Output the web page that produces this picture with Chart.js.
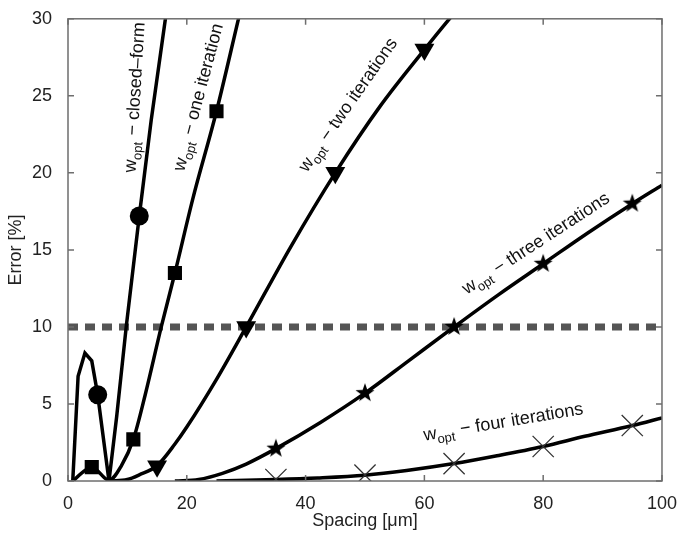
<!DOCTYPE html>
<html>
<head>
<meta charset="utf-8">
<script src="https://cdn.jsdelivr.net/npm/chart.js@4.4.0/dist/chart.umd.min.js"></script>
<style>
  html, body { margin: 0; padding: 0; background: #fff; }
  #wrap { width: 681px; height: 533px; }
</style>
</head>
<body>
<div id="wrap"><canvas id="errChart" width="681" height="533"></canvas></div>
<script>
// Error curves vs. spacing, one per optimisation variant
const closedForm = [[0.8,0],[1.7,6.8],[2.85,8.3],[4.0,7.8],[5.0,5.6],[6.9,0],[8.2,4.2],[9.8,10],[12,17.2],[14,23.4],[16.4,30],[17,31.8]];
const oneIter = [[0.8,0],[4,0.9],[6.9,0.05],[9,1.0],[11,2.7],[13,5.6],[15.7,10],[18,13.5],[21,18.3],[25,24],[28.7,30],[29.5,31.3]];
const twoIter = [[7,0],[10,0.1],[12,0.4],[15,1.0],[18,2.4],[20,3.5],[25,6.6],[30,10],[37.5,15.2],[45,20],[52.5,24.3],[60,28],[64,29.9],[66,30.8]];
const threeIter = [[18,0],[22,0.1],[26,0.5],[30,1.1],[35,2.1],[42.5,3.8],[50,5.7],[57.5,7.85],[65,10],[72.5,12.1],[80,14.1],[87.5,16.1],[95,18],[100,19.2]];
const fourIter = [[25,0],[35,0.1],[42,0.2],[50,0.38],[57,0.68],[65,1.13],[72,1.62],[80,2.24],[87,2.9],[95,3.6],[100,4.1]];

// marker positions on each curve
const closedMarks = [[5,5.6],[12,17.2]];
const oneMarks = [[4,0.9],[11,2.7],[18,13.5],[25,24]];
const twoMarks = [[15,0.95],[30,10],[45,20],[60,28]];
const threeMarks = [[35,2.1],[50,5.7],[65,10],[80,14.1],[95,18]];
const fourMarks = [[35,0.1],[50,0.38],[65,1.13],[80,2.24],[95,3.6]];

const threshold = [[0,10],[100,10]];

const xTicks = [0, 20, 40, 60, 80, 100];
const yTicks = [0, 5, 10, 15, 20, 25, 30];

// curve labels: text after the subscript, anchor (data coords), rotation in degrees
const curveLabels = [
  { rest: ' \u2212 closed\u2013form', x: 11.3, y: 24.9, rot: -86.5 },
  { rest: ' \u2212 one iteration', x: 22.0, y: 24.9, rot: -75 },
  { rest: ' \u2212 two iterations', x: 47.2, y: 24.4, rot: -55 },
  { rest: ' \u2212 three iterations', x: 78.8, y: 15.4, rot: -33 },
  { rest: ' \u2212 four iterations', x: 73.3, y: 3.8, rot: -9.5 }
];

const FONT = '"Liberation Sans", Arial, Helvetica, sans-serif';

function pts(arr) {
  return arr.map(p => ({ x: p[0], y: p[1] }));
}

// filled five-point star used as the marker on the three-iteration curve
function makeStar(r) {
  const s = Math.ceil(r * 2 + 2);
  const c = document.createElement('canvas');
  c.width = s; c.height = s;
  const g = c.getContext('2d');
  g.beginPath();
  for (let i = 0; i < 10; i++) {
    const a = -Math.PI / 2 + i * Math.PI / 5;
    const rr = i % 2 ? r * 0.4 : r;
    g.lineTo(s / 2 + rr * Math.cos(a), s / 2 + rr * Math.sin(a));
  }
  g.closePath();
  g.fillStyle = '#000';
  g.fill();
  return c;
}
const starImg = makeStar(10);

function curve(data, tension) {
  return {
    data: pts(data),
    borderColor: '#000',
    borderWidth: 3.5,
    pointRadius: 0,
    tension: tension,
    cubicInterpolationMode: tension ? 'monotone' : 'default',
    fill: false
  };
}

function marks(data, style, radius, extra) {
  return Object.assign({
    data: pts(data),
    showLine: false,
    pointStyle: style,
    pointRadius: radius,
    pointBackgroundColor: '#000',
    pointBorderColor: '#000',
    pointBorderWidth: 0
  }, extra || {});
}

// box around the plot with inward tick marks on all four sides
const frameTicks = {
  id: 'frameTicks',
  afterDatasetsDraw(chart) {
    const { ctx, chartArea: a, scales } = chart;
    ctx.save();
    ctx.strokeStyle = '#6e6e6e';
    ctx.lineWidth = 1.5;
    ctx.strokeRect(a.left, a.top, a.right - a.left, a.bottom - a.top);
    ctx.beginPath();
    const len = 6;
    xTicks.forEach(v => {
      const px = scales.x.getPixelForValue(v);
      ctx.moveTo(px, a.bottom); ctx.lineTo(px, a.bottom - len);
      ctx.moveTo(px, a.top); ctx.lineTo(px, a.top + len);
    });
    yTicks.forEach(v => {
      const py = scales.y.getPixelForValue(v);
      ctx.moveTo(a.left, py); ctx.lineTo(a.left + len, py);
      ctx.moveTo(a.right, py); ctx.lineTo(a.right - len, py);
    });
    ctx.stroke();
    ctx.restore();
  }
};

// rotated "w_opt - ..." labels along the curves
const curveText = {
  id: 'curveText',
  afterDatasetsDraw(chart) {
    const { ctx, scales } = chart;
    ctx.save();
    ctx.fillStyle = '#111';
    ctx.textBaseline = 'alphabetic';
    curveLabels.forEach(l => {
      const big = '18px ' + FONT, small = '13px ' + FONT;
      ctx.font = big;
      const wW = ctx.measureText('w').width;
      const wRest = ctx.measureText(l.rest).width;
      ctx.font = small;
      const wSub = ctx.measureText('opt').width + 1;
      const total = wW + wSub + wRest;
      ctx.save();
      ctx.translate(scales.x.getPixelForValue(l.x), scales.y.getPixelForValue(l.y));
      ctx.rotate(l.rot * Math.PI / 180);
      let x0 = -total / 2;
      const base = 5;
      ctx.font = big;
      ctx.fillText('w', x0, base);
      x0 += wW;
      ctx.font = small;
      ctx.fillText('opt', x0, base + 5);
      x0 += wSub;
      ctx.font = big;
      ctx.fillText(l.rest, x0, base);
      ctx.restore();
    });
    ctx.restore();
  }
};

const ctx = document.getElementById('errChart').getContext('2d');

new Chart(ctx, {
  type: 'line',
  data: {
    datasets: [
      marks(closedMarks, 'circle', 9.5),
      marks(oneMarks, 'rect', 10),
      marks(twoMarks, 'triangle', 11.5, { pointRotation: 180 }),
      marks(threeMarks, starImg, 10),
      marks(fourMarks, 'crossRot', 15, { pointBorderColor: '#333', pointBorderWidth: 1.3 }),
      curve(closedForm, 0),
      curve(oneIter, 0.4),
      curve(twoIter, 0.4),
      curve(threeIter, 0.4),
      curve(fourIter, 0.4),
      {
        data: pts(threshold),
        borderColor: '#555',
        borderWidth: 7,
        borderDash: [10, 7],
        borderCapStyle: 'butt',
        pointRadius: 0,
        fill: false
      }
    ]
  },
  options: {
    responsive: false,
    animation: false,
    layout: { padding: { left: 0, right: 17, top: 13, bottom: 0 } },
    plugins: {
      legend: { display: false },
      tooltip: { enabled: false }
    },
    scales: {
      x: {
        type: 'linear',
        min: 0,
        max: 100,
        afterFit(scale) { scale.height = 52; },
        afterBuildTicks(scale) { scale.ticks = xTicks.map(v => ({ value: v })); },
        grid: { display: false },
        border: { display: false },
        ticks: { color: '#222', font: { size: 18, family: FONT }, padding: 4, maxRotation: 0 },
        title: { display: true, text: 'Spacing [\u03bcm]', color: '#222', font: { size: 18, family: FONT }, padding: { top: 0, bottom: 1 } }
      },
      y: {
        type: 'linear',
        min: 0,
        max: 30,
        afterFit(scale) { scale.width = 68; },
        afterBuildTicks(scale) { scale.ticks = yTicks.map(v => ({ value: v })); },
        grid: { display: false },
        border: { display: false },
        ticks: { color: '#222', font: { size: 18, family: FONT }, padding: 8 },
        title: { display: true, text: 'Error [%]', color: '#222', font: { size: 18, family: FONT }, padding: { top: 5, bottom: 0 } }
      }
    }
  },
  plugins: [frameTicks, curveText]
});
</script>
</body>
</html>
